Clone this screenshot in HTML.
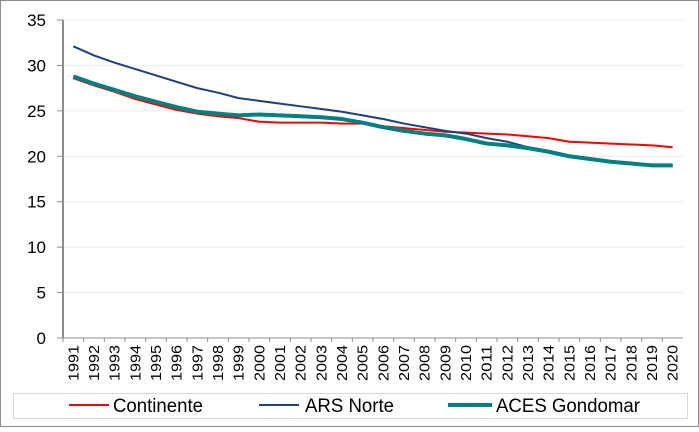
<!DOCTYPE html>
<html><head><meta charset="utf-8"><style>
body{margin:0;background:#fff;font-family:"Liberation Sans",Arial,sans-serif}
svg text{font-family:"Liberation Sans",Arial,sans-serif;fill:#000}
</style></head><body>
<svg id="c" width="699" height="427">
<rect x="0.5" y="0.5" width="698" height="426" fill="#fff" stroke="#8c8c8c"/>
<g id="grid"></g><g id="axes"></g><g id="lines"></g>
<rect x="13.5" y="393.5" width="674" height="25" fill="#fff" stroke="#d9d9d9"/>
<g><line x1="69" y1="405" x2="109" y2="405" stroke="#ff0000" stroke-width="2"/><text x="113" y="412" font-size="19" textLength="90" lengthAdjust="spacingAndGlyphs">Continente</text></g>
<g><line x1="259" y1="405" x2="299" y2="405" stroke="#1f3f7f" stroke-width="2"/><text x="305" y="412" font-size="19" textLength="89" lengthAdjust="spacingAndGlyphs">ARS Norte</text></g>
<g><line x1="448" y1="405" x2="492" y2="405" stroke="#008080" stroke-width="4"/><text x="496" y="412" font-size="19" textLength="144" lengthAdjust="spacingAndGlyphs">ACES Gondomar</text></g>
</svg>
<script>
const years=[];for(let y=1991;y<=2020;y++)years.push(y);
const continente=[28.6,27.8,27.1,26.3,25.7,25.1,24.7,24.4,24.2,23.8,23.7,23.7,23.7,23.6,23.6,23.3,23.1,22.9,22.7,22.6,22.5,22.4,22.2,22.0,21.6,21.5,21.4,21.3,21.2,21.0];
const arsNorte=[32.1,31.1,30.3,29.6,28.9,28.2,27.5,27.0,26.4,26.1,25.8,25.5,25.2,24.9,24.5,24.1,23.6,23.2,22.8,22.5,22.0,21.6,21.0,20.6,20.1,19.7,19.4,19.2,19.0,19.0];
const aces=[28.8,28.0,27.3,26.6,26.0,25.4,24.9,24.7,24.5,24.6,24.5,24.4,24.3,24.1,23.7,23.2,22.8,22.5,22.3,21.9,21.4,21.2,20.9,20.5,20.0,19.7,19.4,19.2,19.0,19.0];
const yTicks=[0,5,10,15,20,25,30,35];
const NS='http://www.w3.org/2000/svg';
const x0=63,x1=683,yB=338,yT=20;
const step=(x1-x0)/years.length;
const X=i=>x0+step*(i+0.5);
const Y=v=>yB-(v/35)*(yB-yT);
function mk(t,a,p){const e=document.createElementNS(NS,t);for(const k in a)e.setAttribute(k,a[k]);p.appendChild(e);return e;}
const grid=document.getElementById('grid'),axes=document.getElementById('axes'),lines=document.getElementById('lines');
yTicks.forEach(v=>{
 if(v>0){const g=mk('line',{x1:x0,x2:x1,y1:Y(v),y2:Y(v),stroke:'#ececec'},grid);
 
 }
 mk('line',{x1:x0-6,x2:x0,y1:Y(v),y2:Y(v),stroke:'#8c8c8c'},axes);
 const t=mk('text',{x:x0-17,y:Y(v)+6,'text-anchor':'end','font-size':17},axes);t.textContent=v;
 
 
});
const ya=mk('line',{x1:x0,x2:x0,y1:yT,y2:yB,stroke:'#8c8c8c','stroke-width':2},axes);


const xa=mk('line',{x1:x0,x2:x1,y1:yB,y2:yB,stroke:'#8c8c8c'},axes);


years.forEach((y,i)=>{
 mk('line',{x1:x0+step*i,x2:x0+step*i,y1:yB,y2:yB+4,stroke:'#8c8c8c'},axes);
 const t=mk('text',{x:0,y:0,'text-anchor':'end','font-size':15,textLength:36,lengthAdjust:'spacingAndGlyphs',transform:`translate(${X(i)+5},${yB+7}) rotate(-90)`},axes);t.textContent=y;
 
 
});
function series(d,c,w,n){const p=mk('polyline',{points:d.map((v,i)=>X(i)+','+Y(v)).join(' '),fill:'none',stroke:c,'stroke-width':w,'stroke-linejoin':'round'},lines);
 
 }
series(continente,'#ff0000',2,'series-continente');
series(arsNorte,'#1f3f7f',2,'series-ars-norte');
series(aces,'#008080',4,'series-aces-gondomar');
</script>
</body></html>
